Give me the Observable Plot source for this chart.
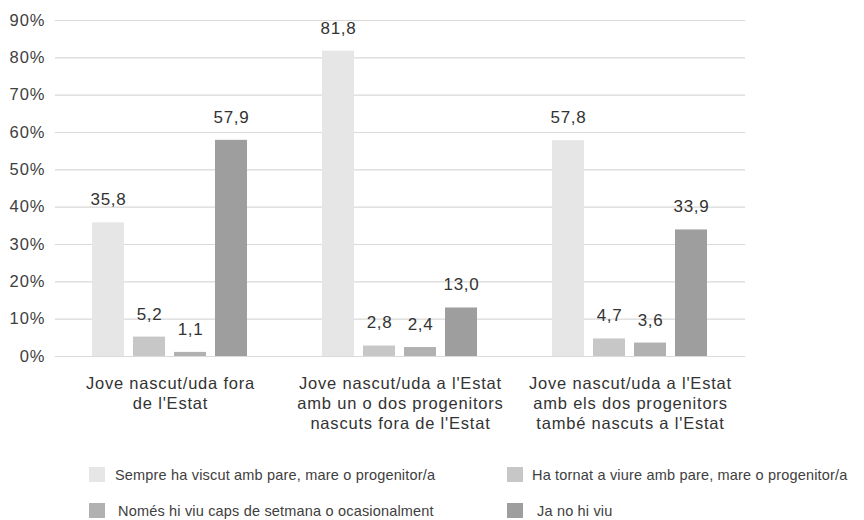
<!DOCTYPE html>
<html>
<head>
<meta charset="utf-8">
<script src="https://cdn.jsdelivr.net/npm/d3@7"></script>
<script src="https://cdn.jsdelivr.net/npm/@observablehq/plot@0.6"></script>
<style>
  body { margin: 0; background: #fff; }
  #wrap { position: relative; width: 864px; height: 520px; font-family: "Liberation Sans", Arial, sans-serif; color: #404040; }
  .sw { position: absolute; width: 16px; height: 15px; }
  .lt { position: absolute; font-size: 14.5px; letter-spacing: 0.18px; line-height: 16px; white-space: nowrap; }
  #chart g[aria-label="fx-axis tick label"] text { letter-spacing: 0.8px; }
  #chart g[aria-label="y-axis tick label"] text { letter-spacing: 1px; }
  #chart g[aria-label="text"] text { letter-spacing: 0.7px; }
</style>
</head>
<body>
<div id="wrap"><div id="chart"></div></div>
<script>
const groups = [
  "Jove nascut/uda fora\nde l'Estat",
  "Jove nascut/uda a l'Estat\namb un o dos progenitors\nnascuts fora de l'Estat",
  "Jove nascut/uda a l'Estat\namb els dos progenitors\ntambé nascuts a l'Estat"
];
const series = [
  "Sempre ha viscut amb pare, mare o progenitor/a",
  "Ha tornat a viure amb pare, mare o progenitor/a",
  "Només hi viu caps de setmana o ocasionalment",
  "Ja no hi viu"
];
const sempre = [35.8, 81.8, 57.8];
const tornat = [5.2, 2.8, 4.7];
const caps = [1.1, 2.4, 3.6];
const jaNo = [57.9, 13.0, 33.9];
const yTicks = [0, 10, 20, 30, 40, 50, 60, 70, 80, 90];
const colors = ["#e6e6e6", "#c7c7c7", "#b1b1b1", "#9e9e9e"];

const seriesValues = [sempre, tornat, caps, jaNo];
const data = [];
groups.forEach((g, gi) => {
  series.forEach((s, si) => {
    data.push({group: g, series: s, value: seriesValues[si][gi]});
  });
});

const fmt = d => d.toFixed(1).replace(".", ",");

const chart = Plot.plot({
  width: 864,
  height: 450,
  marginLeft: 54,
  marginRight: 118,
  marginTop: 20,
  marginBottom: 94,
  style: {fontFamily: "'Liberation Sans', Arial, sans-serif", background: "#fff"},
  fx: {domain: groups, padding: 0},
  x: {domain: series, paddingInner: 0.214, paddingOuter: 0.853, axis: null},
  y: {domain: [0, 90]},
  color: {domain: series, range: colors},
  marks: [
    Plot.gridY(yTicks, {stroke: "#d9d9d9", strokeOpacity: 1, strokeWidth: 1.2}),
    Plot.axisY(yTicks, {tickSize: 0, tickPadding: 10, tickFormat: d => d + "%", fontSize: 16.5, fill: "#404040", label: null}),
    Plot.barY(data, {fx: "group", x: "series", y: "value", fill: "series"}),
    Plot.text(data, {fx: "group", x: "series", y: "value", text: d => fmt(d.value), dy: -23, fontSize: 17, fill: "#333", lineAnchor: "middle"}),
    Plot.axisFx({anchor: "bottom", tickSize: 0, tickPadding: 19, label: null, fontSize: 16.5, lineHeight: 1.19, fill: "#333"})
  ]
});
document.getElementById("chart").appendChild(chart);

const legendPos = [
  {sx: 89, sy: 467, tx: 115, ty: 467},
  {sx: 507, sy: 467, tx: 532, ty: 467},
  {sx: 89, sy: 503, tx: 118, ty: 503},
  {sx: 507, sy: 503, tx: 537, ty: 503}
];
const wrap = document.getElementById("wrap");
series.forEach((s, i) => {
  const p = legendPos[i];
  const sw = document.createElement("div");
  sw.className = "sw";
  sw.style.left = p.sx + "px";
  sw.style.top = p.sy + "px";
  sw.style.background = colors[i];
  wrap.appendChild(sw);
  const t = document.createElement("div");
  t.className = "lt";
  t.style.left = p.tx + "px";
  t.style.top = p.ty + "px";
  t.textContent = s;
  wrap.appendChild(t);
});
</script>
</body>
</html>
